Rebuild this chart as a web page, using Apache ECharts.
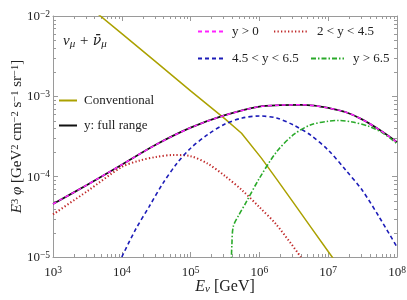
<!DOCTYPE html>
<html><head><meta charset="utf-8">
<script src="https://cdn.jsdelivr.net/npm/echarts@6/dist/echarts.min.js"></script>
<style>html,body{margin:0;padding:0;background:#fff}#c{width:407px;height:300px}</style>
</head><body><div id="c"></div>
<script>
// ---- data ----
const xTickExponents = [3, 4, 5, 6, 7, 8];
const yTickExponents = [-5, -4, -3, -2];

const conventionalE    = [3.16e3, 1e4, 3.16e4, 1e5, 3.16e5, 5.50e5, 1.07e6, 1.78e6, 3.16e6, 5.62e6, 1e7, 1.26e7];
const conventionalFlux = [1.36e-2, 6.03e-3, 2.66e-3, 1.17e-3, 5.25e-4, 3.47e-4, 1.70e-4, 9.33e-5, 4.68e-5, 2.34e-5, 1.17e-5, 8.9e-6];

const totalE    = [1e3, 3.16e3, 1e4, 3.16e4, 1e5, 3.16e5, 1e6, 2.0e6, 4.0e6, 6.3e6, 1e7, 1.78e7, 3.16e7, 5.62e7, 1e8];
const totalFlux = [4.57e-5, 7.94e-5, 1.41e-4, 2.51e-4, 4.07e-4, 5.82e-4, 7.45e-4, 7.76e-4, 7.85e-4, 7.67e-4, 7.16e-4, 6.38e-4, 5.13e-4, 3.80e-4, 2.69e-4];

const lowYE    = [1e3, 3.16e3, 1e4, 1.78e4, 3.16e4, 5.62e4, 1e5, 1.78e5, 3.16e5, 5.62e5, 1e6, 1.78e6, 4.0e6];
const lowYFlux = [3.39e-5, 6.61e-5, 1.32e-4, 1.58e-4, 1.76e-4, 1.86e-4, 1.80e-4, 1.45e-4, 1.02e-4, 6.76e-5, 4.17e-5, 2.51e-5, 1.0e-5];

const midYE    = [1e4, 1.58e4, 2.51e4, 3.98e4, 6.31e4, 1e5, 1.78e5, 3.16e5, 5.62e5, 1e6, 1.78e6, 3.16e6, 5.62e6, 1e7, 1.78e7, 3.16e7, 5.62e7, 1e8];
const midYFlux = [1.0e-5, 2.19e-5, 4.27e-5, 8.32e-5, 1.46e-4, 2.26e-4, 3.35e-4, 4.52e-4, 5.37e-4, 5.69e-4, 5.37e-4, 4.37e-4, 3.27e-4, 2.14e-4, 1.22e-4, 6.68e-5, 3.06e-5, 1.33e-5];

const highYE    = [3.89e5, 3.98e5, 4.17e5, 5.01e5, 6.31e5, 1e6, 1.78e6, 3.16e6, 5.62e6, 1e7, 1.41e7, 2.24e7, 3.98e7, 6.31e7, 1e8];
const highYFlux = [7.9e-6, 1.41e-5, 2.40e-5, 3.31e-5, 4.68e-5, 9.55e-5, 2.04e-4, 3.35e-4, 4.42e-4, 4.90e-4, 5.01e-4, 4.79e-4, 4.20e-4, 3.47e-4, 2.57e-4];

const seriesNames = ['Conventional', 'y: full range', 'y > 0', '2 < y < 4.5', '4.5 < y < 6.5', 'y > 6.5'];
const minorMultipliers = [2, 3, 4, 5, 6, 7, 8, 9];

// ---- helpers ----
const zip = (xs, ys) => xs.map((x, i) => [x, ys[i]]);
const SERIF = 'Liberation Serif';
const MINUS = '\u2212';
const supRich = {
  b: { fontFamily: SERIF, fontSize: 13, color: '#222', verticalAlign: 'bottom', lineHeight: 14 },
  s: { fontFamily: SERIF, fontSize: 9.5, color: '#222', verticalAlign: 'top', lineHeight: 9, padding: [0, 0, 7, 0] }
};
function powLabel(v) {
  const e = Math.round(Math.log10(v));
  return '{b|10}{s|' + String(e).replace('-', MINUS) + '}';
}
const axisGray = '#9a9a9a';

const chart = echarts.init(document.getElementById('c'), null, { renderer: 'canvas' });

function baseLine(name, data, color, type, width, z, smooth) {
  return {
    name, type: 'line', data, symbol: 'none', showSymbol: false,
    smooth: smooth, z: z, clip: true,
    lineStyle: { color, type, width },
    itemStyle: { color }
  };
}

function mkLegend(name, left, top, itemWidth, pad) {
  return {
    data: [name], left, top, padding: 0, itemWidth, itemHeight: 10, selectedMode: false,
    itemStyle: { opacity: 0, borderWidth: 0 },
    textStyle: { fontFamily: SERIF, fontSize: 13, color: '#222', padding: [0, 0, 0, pad] }
  };
}

const option = {
  animation: false,
  backgroundColor: '#fff',
  grid: { left: 53, right: 10, top: 16, bottom: 43, containLabel: false, outerBoundsMode: 'none' },
  legend: [
    mkLegend(seriesNames[2], 197, 25, 25, 4),
    mkLegend(seriesNames[3], 273, 25, 34, 4),
    mkLegend(seriesNames[4], 197, 52, 25, 4),
    mkLegend(seriesNames[5], 310, 52, 33, 4),
    mkLegend(seriesNames[0], 58, 94, 18, 2),
    mkLegend(seriesNames[1], 58, 119, 18, 2)
  ],
  xAxis: [
    {
      type: 'log', logBase: 10, min: Math.pow(10, xTickExponents[0]), max: Math.pow(10, xTickExponents[xTickExponents.length - 1]),
      position: 'bottom',
      axisLine: { show: true, lineStyle: { color: axisGray, width: 1 } },
      axisTick: { show: true, inside: true, length: 5, lineStyle: { color: axisGray } },
      axisLabel: { formatter: powLabel, rich: supRich, margin: 8, color: '#222', alignMinLabel: 'center', alignMaxLabel: 'center', hideOverlap: false },
      splitLine: { show: false },
      name: '{i|E}{sub|ν}{n| [GeV]}', nameLocation: 'middle', nameGap: 22, nameMoveOverlap: false,
      nameTextStyle: {
        rich: {
          i: { fontFamily: SERIF, fontStyle: 'italic', fontSize: 16, color: '#222', verticalAlign: 'top', lineHeight: 16 },
          sub: { fontFamily: SERIF, fontStyle: 'italic', fontSize: 11, color: '#222', verticalAlign: 'bottom', lineHeight: 11, padding: [9, 0, 0, 0] },
          n: { fontFamily: SERIF, fontSize: 16, color: '#222', verticalAlign: 'top', lineHeight: 16 }
        }
      }
    },
    {
      type: 'log', logBase: 10, min: Math.pow(10, xTickExponents[0]), max: Math.pow(10, xTickExponents[xTickExponents.length - 1]),
      position: 'top',
      axisLine: { show: true, lineStyle: { color: axisGray, width: 1 } },
      axisTick: { show: true, inside: true, length: 5, lineStyle: { color: axisGray } },
      axisLabel: { show: false }, splitLine: { show: false }
    }
  ],
  yAxis: [
    {
      type: 'log', logBase: 10, min: Math.pow(10, yTickExponents[0]), max: Math.pow(10, yTickExponents[yTickExponents.length - 1]),
      position: 'left',
      axisLine: { show: true, lineStyle: { color: axisGray, width: 1 } },
      axisTick: { show: true, inside: true, length: 5, lineStyle: { color: axisGray } },
      axisLabel: { formatter: powLabel, rich: supRich, margin: 3, color: '#222', verticalAlignMinLabel: 'middle', verticalAlignMaxLabel: 'middle', hideOverlap: false },
      splitLine: { show: false },
      name: '{i|E}{sup|3}{i| φ}{n| [GeV}{sup|2}{n| cm}{sup|' + MINUS + '2}{n| s}{sup|' + MINUS + '1}{n| sr}{sup|' + MINUS + '1}{n|]}',
      nameLocation: 'middle', nameGap: 28, nameRotate: 90, nameMoveOverlap: false,
      nameTextStyle: {
        rich: {
          i: { fontFamily: SERIF, fontStyle: 'italic', fontSize: 15, color: '#222', verticalAlign: 'bottom', lineHeight: 15 },
          n: { fontFamily: SERIF, fontSize: 15, color: '#222', verticalAlign: 'bottom', lineHeight: 15 },
          sup: { fontFamily: SERIF, fontSize: 10.5, color: '#222', verticalAlign: 'top', lineHeight: 10, padding: [0, 0, 9, 0] }
        }
      }
    },
    {
      type: 'log', logBase: 10, min: Math.pow(10, yTickExponents[0]), max: Math.pow(10, yTickExponents[yTickExponents.length - 1]),
      position: 'right',
      axisLine: { show: true, lineStyle: { color: axisGray, width: 1 } },
      axisTick: { show: true, inside: true, length: 5, lineStyle: { color: axisGray } },
      axisLabel: { show: false }, splitLine: { show: false }
    }
  ],
  series: [
    baseLine(seriesNames[0], zip(conventionalE, conventionalFlux), '#aba100', 'solid', 1.5, 2, false),
    baseLine(seriesNames[1], zip(totalE, totalFlux), '#111111', 'solid', 1.8, 3, 0.3),
    baseLine(seriesNames[2], zip(totalE, totalFlux), '#ff22ff', [4, 3], 1.5, 4, 0.3),
    baseLine(seriesNames[3], zip(lowYE, lowYFlux), '#c02828', [1.3, 2.2], 2, 3, 0.3),
    baseLine(seriesNames[4], zip(midYE, midYFlux), '#1c1cb8', [4, 3], 1.6, 3, 0.3),
    baseLine(seriesNames[5], zip(highYE, highYFlux), '#2aaa2a', [5, 2, 1.5, 2], 1.6, 3, 0.3)
  ]
};
chart.setOption(option);

// minor ticks, placed through the axes' own scales
const gfx = [];
const x0 = chart.convertToPixel({ xAxisIndex: 0 }, Math.pow(10, xTickExponents[0]));
const x1 = chart.convertToPixel({ xAxisIndex: 0 }, Math.pow(10, xTickExponents[xTickExponents.length - 1]));
const yb = chart.convertToPixel({ yAxisIndex: 0 }, Math.pow(10, yTickExponents[0]));
const yt = chart.convertToPixel({ yAxisIndex: 0 }, Math.pow(10, yTickExponents[yTickExponents.length - 1]));
const tickStyle = { stroke: axisGray, lineWidth: 1 };
xTickExponents.slice(0, -1).forEach(e => {
  minorMultipliers.forEach(m => {
    const px = Math.round(chart.convertToPixel({ xAxisIndex: 0 }, m * Math.pow(10, e))) + 0.5;
    gfx.push({ type: 'line', silent: true, shape: { x1: px, y1: yb, x2: px, y2: yb - 3 }, style: tickStyle });
    gfx.push({ type: 'line', silent: true, shape: { x1: px, y1: yt, x2: px, y2: yt + 3 }, style: tickStyle });
  });
});
yTickExponents.slice(0, -1).forEach(e => {
  minorMultipliers.forEach(m => {
    const py = Math.round(chart.convertToPixel({ yAxisIndex: 0 }, m * Math.pow(10, e))) + 0.5;
    gfx.push({ type: 'line', silent: true, shape: { x1: x0, y1: py, x2: x0 + 3, y2: py }, style: tickStyle });
    gfx.push({ type: 'line', silent: true, shape: { x1: x1, y1: py, x2: x1 - 3, y2: py }, style: tickStyle });
  });
});
gfx.push({
  type: 'text', left: 63, top: 31, silent: true,
  style: {
    text: '{i|ν}{sub|μ}{i| + }{bar|ν\u0304}{sub|μ}',
    rich: {
      i: { fontFamily: SERIF, fontStyle: 'italic', fontSize: 15, fill: '#222', verticalAlign: 'top', lineHeight: 16 },
      bar: { fontFamily: 'DejaVu Serif', fontStyle: 'italic', fontSize: 14, fill: '#222', verticalAlign: 'top', lineHeight: 16 },
      sub: { fontFamily: SERIF, fontStyle: 'italic', fontSize: 11, fill: '#222', verticalAlign: 'bottom', lineHeight: 11, padding: [8, 0, 0, 0] }
    }
  }
});
chart.setOption({ graphic: { elements: gfx } });
</script>
</body></html>
